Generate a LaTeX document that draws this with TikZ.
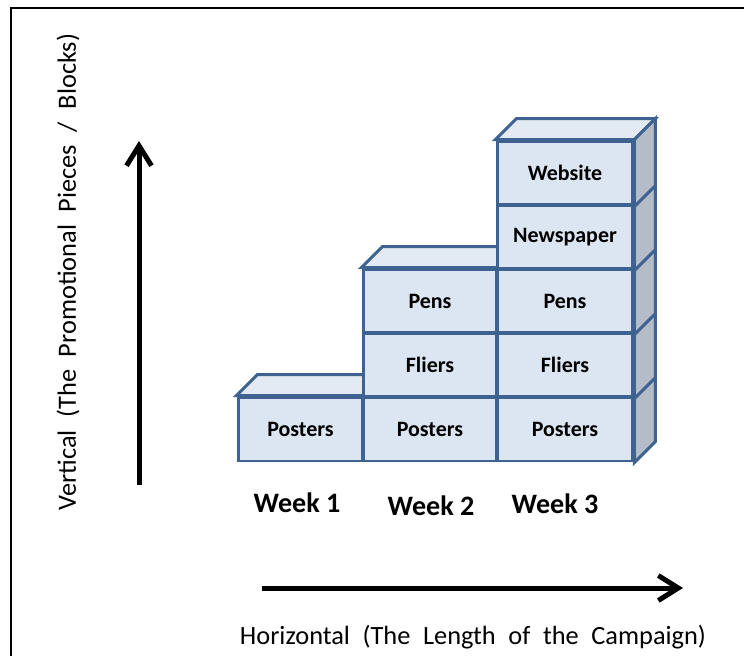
\documentclass[tikz,border=0pt]{standalone}
\usepackage{fontspec}
\setmainfont{Carlito}
\usepackage{tikz}
\usetikzlibrary{calc,arrows.meta}
\definecolor{blockedge}{HTML}{3F6390}
\definecolor{blockfront}{HTML}{DCE6F2}
\definecolor{blocktop}{HTML}{E3EAF4}
\definecolor{blockside}{HTML}{B3BCC7}
\newcommand\axisfont{\fontsize{15}{18}\selectfont\spaceskip 0.48em\relax}
\tikzset{
  block/.style={draw=blockedge,fill=blockfront,line width=0.06cm,minimum height=1.28cm,
    inner sep=0pt,font=\fontsize{12.5}{15}\selectfont\bfseries},
  face/.style={draw=blockedge,line width=0.06cm},
  weeklabel/.style={font=\fontsize{16}{19}\selectfont\bfseries},
  axislabel/.style={font=\axisfont},
  axisarrow/.style={line width=0.1cm,-{Straight Barb[length=0.4cm,width=0.5cm]}}
}
\newcommand\topface[1]{
  \draw[face,fill=blocktop] (#1.north west) -- ($ (#1.north west) + (21,-21) $) -- ($ (#1.north east) + (21,-21) $) -- (#1.north east) -- cycle;
}
\newcommand\sideface[1]{
  \draw[face,fill=blockside] (#1.north east) -- ($ (#1.north east) + (21,-21) $) -- ($ (#1.south east) + (21,-21) $) -- (#1.south east) -- cycle;
}

\begin{document}
\begin{tikzpicture}[x=0.02cm,y=-0.02cm]
  \useasboundingbox (0,0) rectangle (744,656);
  \draw[line width=0.05cm] (11,656) -- (11,8) -- (744,8);

  \node[block,minimum width=2.5cm] (post1) at (300.5,429) {Posters};
  \topface{post1}

  \node[block,minimum width=2.68cm] (post2) at (430,429) {Posters};
  \node[block,minimum width=2.68cm] (fly2) at (430,365) {Fliers};
  \node[block,minimum width=2.68cm] (pen2) at (430,301) {Pens};
  \topface{pen2}

  \node[block,minimum width=2.72cm] (post3) at (565,429) {Posters};
  \node[block,minimum width=2.72cm] (fly3) at (565,365) {Fliers};
  \node[block,minimum width=2.72cm] (pen3) at (565,301) {Pens};
  \node[block,minimum width=2.72cm] (news3) at (565,237) {Newspaper};
  \node[block,minimum width=2.72cm] (web3) at (565,173) {Website};
  \topface{web3}
  \sideface{post3}
  \sideface{fly3}
  \sideface{pen3}
  \sideface{news3}
  \sideface{web3}

  \node[weeklabel] (week1) at (297,503) {Week 1};
  \node[weeklabel] (week2) at (431,506) {Week 2};
  \node[weeklabel] (week3) at (555,504) {Week 3};

  \coordinate (vbot) at (139,485);
  \coordinate (vtop) at (139,141);
  \draw[axisarrow] (vbot) -- (vtop);
  \coordinate (hleft) at (262,588);
  \coordinate (hright) at (683,588);
  \draw[axisarrow] (hleft) -- (hright);

  \node[axislabel,rotate=90] (vlabel) at (68,272) {Vertical (The Promotional Pieces / Blocks)};
  \node[axislabel] (hlabel) at (473,637) {Horizontal (The Length of the Campaign)};
\end{tikzpicture}
\end{document}
